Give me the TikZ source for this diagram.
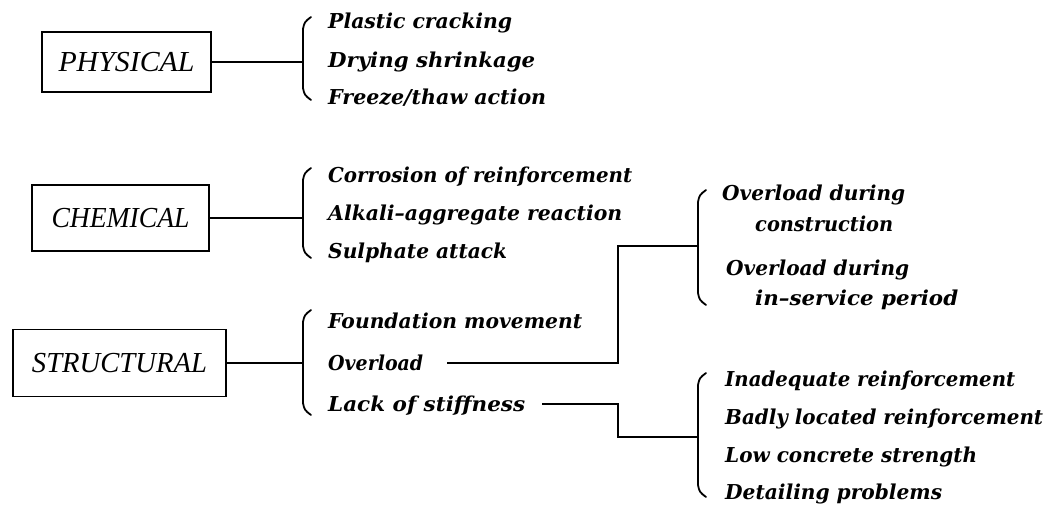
\documentclass[tikz,border=0pt]{standalone}
\usepackage{fontspec}
\usepackage{graphicx}
\setmainfont{Liberation Serif}
\newfontfamily\causefont{DejaVu Serif}
\newfontfamily\headfont{Liberation Serif}

% scale a text horizontally to a given width (in pt)
\newsavebox\fitbox
\newcommand\fitto[2]{\sbox\fitbox{#2}\pgfmathsetmacro\fitratio{#1/\the\wd\fitbox}\scalebox{\fitratio}[1]{\usebox\fitbox}}

% a tall curly bracket: x, top, bottom
\newcommand\sidebrace[3]{%
  \draw[bracket] (#1+8,#2) .. controls (#1+1.5,#2+5) .. (#1,#2+12)
    -- (#1,#3-12) .. controls (#1+1.5,#3-5) .. (#1+8,#3);}

\begin{document}
\begin{tikzpicture}[x=1pt,y=-1pt,
  headbox/.style={draw,line width=1.8pt,inner sep=0pt,text height=19pt,text depth=0pt,
    font=\headfont\itshape\fontsize{29}{31}\selectfont},
  cause/.style={anchor=west,inner sep=0pt,text height=14pt,text depth=0pt,
    font=\causefont\bfseries\itshape\fontsize{20.5}{22}\selectfont},
  link/.style={line width=1.7pt},
  bracket/.style={line width=1.8pt,line cap=round}]
\useasboundingbox[fill=white] (0,0) rectangle (1051,511);

% category boxes
\node[headbox,minimum width=169pt,minimum height=60pt] (phys) at (126.5,62) {\fitto{136}{PHYSICAL}};
\node[headbox,minimum width=177pt,minimum height=66pt] (chem) at (120.5,218) {\fitto{138}{CHEMICAL}};
\node[headbox,minimum width=213pt,minimum height=67pt] (stru) at (119.5,363) {\fitto{175}{STRUCTURAL}};

% bracket joints
\coordinate (b1) at (303,62);
\coordinate (b2) at (303,218);
\coordinate (b3) at (303,363);
\coordinate (b4) at (698,246);
\coordinate (b5) at (698,437);

\sidebrace{303}{17}{100}
\sidebrace{303}{168}{258}
\sidebrace{303}{310}{415}
\sidebrace{698}{190}{305}
\sidebrace{698}{373}{497}

% physical causes
\node[cause] (p1) at (328,22) {\fitto{184}{Plastic cracking}};
\node[cause] (p2) at (328,60) {\fitto{207}{Drying shrinkage}};
\node[cause] (p3) at (328,97) {\fitto{218}{Freeze/thaw action}};

% chemical causes
\node[cause] (c1) at (328,175) {\fitto{304}{Corrosion of reinforcement}};
\node[cause] (c2) at (328,213) {\fitto{294}{Alkali–aggregate reaction}};
\node[cause] (c3) at (328,251) {\fitto{179}{Sulphate attack}};

% structural causes
\node[cause] (s1) at (328,321) {\fitto{254}{Foundation movement}};
\node[cause] (ovl) at (328,363) {\fitto{95}{Overload}};
\node[cause] (lack) at (328,404) {\fitto{197}{Lack of stiffness}};

% overload cases
\node[cause] (o1) at (722,193) {\fitto{183}{Overload during}};
\node[cause] (o1b) at (755,224) {\fitto{138}{construction}};
\node[cause] (o2) at (726,268) {\fitto{183}{Overload during}};
\node[cause] (o2b) at (755,298) {\fitto{203}{in–service period}};

% stiffness cases
\node[cause] (k1) at (725,379) {\fitto{290}{Inadequate reinforcement}};
\node[cause] (k2) at (725,417) {\fitto{318}{Badly located reinforcement}};
\node[cause] (k3) at (725,455) {\fitto{252}{Low concrete strength}};
\node[cause] (k4) at (725,492) {\fitto{217}{Detailing problems}};

% connectors
\draw[link] (phys.east) -- (b1);
\draw[link] (chem.east) -- (b2);
\draw[link] (stru.east) -- (b3);
\coordinate (ovs) at ([xshift=24pt]ovl.east);
\coordinate (lks) at ([xshift=17pt]lack.east);
\draw[link] (ovs) -| (618,246) -- (b4);
\draw[link] (lks) -| (618,437) -- (b5);
\end{tikzpicture}
\end{document}
